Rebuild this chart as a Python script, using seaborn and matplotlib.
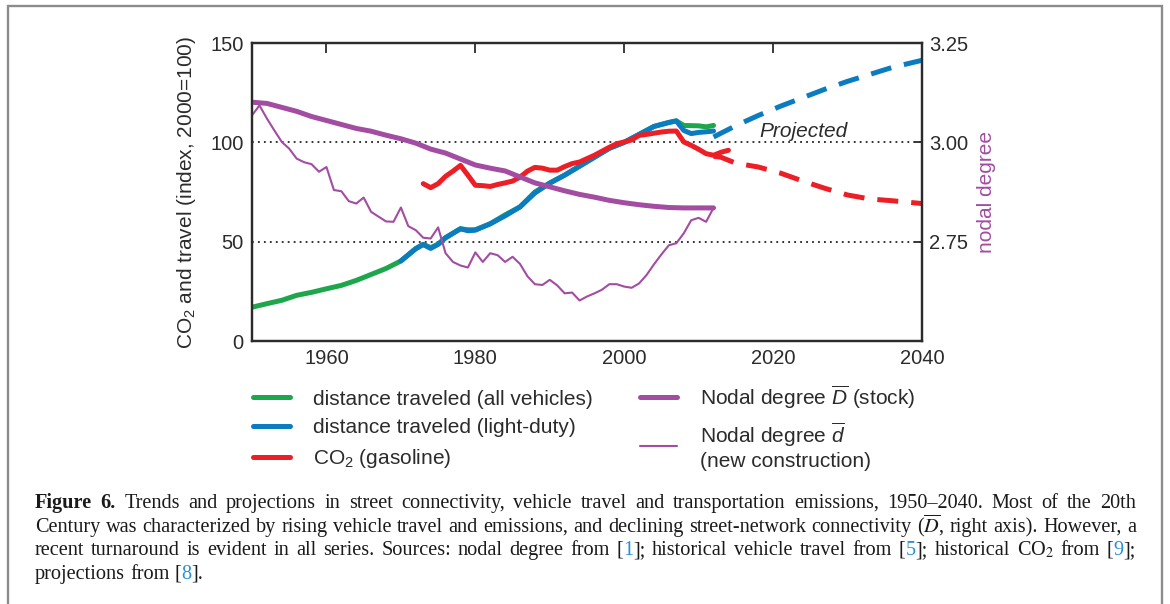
import matplotlib
matplotlib.use("Agg")
import matplotlib.pyplot as plt
import seaborn as sns
from matplotlib.lines import Line2D
from matplotlib.patches import Rectangle

# data
# vehicle travel, all vehicles (index, 2000=100)
years_all = [1950, 1952, 1954, 1956, 1958, 1960, 1962, 1964, 1966, 1968, 1970,
             1972, 1973, 1974, 1975, 1976, 1978, 1979, 1980, 1982, 1984, 1986,
             1988, 1990, 1992, 1994, 1996, 1998, 2000, 2002, 2004, 2006, 2007,
             2008, 2010, 2011, 2012]
travel_all = [17, 18.8, 20.5, 23, 24.5, 26.3, 28, 30.5, 33.5, 36.5, 40.3,
              46.5, 48.6, 47, 48.7, 52, 56.5, 56, 56, 59, 63.5, 67.5,
              75, 79.5, 83.5, 88, 92.5, 97, 100, 104, 108, 110, 110.8,
              108.5, 108.3, 107.8, 108.5]

# vehicle travel, light-duty
years_ld = [1970, 1972, 1973, 1974, 1975, 1976, 1978, 1979, 1980, 1982, 1984,
            1986, 1988, 1990, 1992, 1994, 1996, 1998, 2000, 2002, 2004, 2006,
            2007, 2008, 2009, 2010, 2011, 2012]
travel_ld = [40.3, 46.5, 48.6, 46.6, 48.7, 52, 56.5, 55.5, 55.8, 59, 63,
             67.5, 74.5, 79.5, 83.5, 88, 92.5, 97, 100, 104, 108, 110,
             110.8, 106, 104.4, 105, 105.3, 105.7]
years_ld_proj = [2012, 2015, 2018, 2021, 2024, 2027, 2030, 2033, 2036, 2040]
travel_ld_proj = [102.7, 108.4, 113.5, 118.2, 122.5, 126.8, 130.7, 134.2, 137.7, 141.3]

# CO2 from gasoline
years_co2 = list(range(1973, 2015))
co2 = [79.2, 77.2, 79.2, 82.9, 85.5, 88.4, 83.5, 78.4, 78.2, 77.8, 78.8,
       79.6, 80.5, 82.5, 85.5, 87.4, 87, 86, 86, 87.8, 89.3, 90.1, 91.8,
       93.5, 95.5, 97.5, 99.3, 100.2, 101.2, 103.5, 104, 104.6, 105.2,
       105.6, 105.7, 100.2, 98.5, 96.5, 94.3, 93.5, 95, 96]
years_co2_proj = [2012, 2013, 2015, 2018, 2021, 2024, 2027, 2030, 2033, 2036, 2040]
co2_proj = [93, 92.5, 89.5, 87.6, 84.5, 80.5, 76.8, 73.5, 71.5, 70.6, 69.2]

# nodal degree of the stock (D bar)
years_stock = list(range(1950, 2013, 2))
degree_stock = [3.101, 3.098, 3.088, 3.078, 3.065, 3.055, 3.045, 3.035, 3.028,
                3.018, 3.009, 2.998, 2.983, 2.973, 2.958, 2.943, 2.935, 2.928,
                2.913, 2.898, 2.888, 2.878, 2.869, 2.862, 2.854, 2.848, 2.843,
                2.839, 2.836, 2.835, 2.835, 2.835]

# nodal degree of new construction (d bar)
years_new = list(range(1950, 2013))
degree_new = [3.068, 3.093, 3.060, 3.030, 3.001, 2.984, 2.959, 2.950, 2.945,
              2.926, 2.938, 2.880, 2.877, 2.852, 2.846, 2.861, 2.825, 2.813,
              2.801, 2.800, 2.836, 2.789, 2.779, 2.760, 2.758, 2.786, 2.721,
              2.699, 2.690, 2.685, 2.723, 2.699, 2.721, 2.716, 2.699, 2.712,
              2.694, 2.663, 2.643, 2.641, 2.654, 2.640, 2.620, 2.622, 2.602,
              2.612, 2.620, 2.629, 2.643, 2.643, 2.637, 2.634, 2.645, 2.666,
              2.693, 2.718, 2.741, 2.746, 2.771, 2.804, 2.810, 2.800, 2.835]

x_ticks = [1960, 1980, 2000, 2020, 2040]
left_ticks = [0, 50, 100, 150]
right_ticks = [2.75, 3.00, 3.25]

GREEN = "#1ea64c"
BLUE = "#0b7cc0"
RED = "#ed1f26"
PURPLE = "#a24ca2"
LINK = "#2a90d2"

sns.set_theme(style="white")
plt.rcParams["font.family"] = ["Liberation Sans", "DejaVu Sans"]
plt.rcParams["mathtext.fontset"] = "custom"
plt.rcParams["mathtext.rm"] = "Liberation Sans"
plt.rcParams["mathtext.it"] = "Liberation Sans:italic"

fig = plt.figure(figsize=(11.7, 6.04), dpi=100)
ax = fig.add_axes([0.2154, 0.4354, 0.5726, 0.4934])
ax2 = ax.twinx()

thick = 3.6
proj_dash = (0, (4.2, 2.6))

sns.lineplot(x=years_all, y=travel_all, ax=ax, color=GREEN, linewidth=thick)
sns.lineplot(x=years_ld, y=travel_ld, ax=ax, color=BLUE, linewidth=thick)
sns.lineplot(x=years_ld_proj, y=travel_ld_proj, ax=ax, color=BLUE,
             linewidth=thick, linestyle=proj_dash)
sns.lineplot(x=years_co2, y=co2, ax=ax, color=RED, linewidth=thick)
sns.lineplot(x=years_co2_proj, y=co2_proj, ax=ax, color=RED,
             linewidth=thick, linestyle=proj_dash)

sns.lineplot(x=years_new, y=degree_new, ax=ax2, color=PURPLE, linewidth=1.5)
sns.lineplot(x=years_stock, y=degree_stock, ax=ax2, color=PURPLE, linewidth=thick)

for v in [50, 100]:
    ax.axhline(v, color="#222222", linewidth=1.3, linestyle=(0, (1, 2.3)), zorder=0.5)

ax.set_xlim(1950, 2040)
ax.set_ylim(0, 150)
ax2.set_ylim(2.5, 3.25)
ax.set_xticks(x_ticks)
ax.set_yticks(left_ticks)
ax2.set_yticks(right_ticks)
ax2.set_yticklabels([f"{t:.2f}" for t in right_ticks])

for a in (ax, ax2):
    for sp in a.spines.values():
        sp.set_color("#2b2b2b")
        sp.set_linewidth(1.6)
ax.tick_params(axis="x", direction="in", length=7, width=1.3, top=True,
               labelsize=14.5, pad=6, colors="#2b2b2b")
ax.tick_params(axis="y", direction="in", length=0, labelsize=14.5, pad=6,
               colors="#2b2b2b")
ax2.tick_params(axis="y", direction="in", length=6, width=1.3, labelsize=14.5,
                pad=5, colors="#2b2b2b")

ax.set_xlabel("")
ax.set_ylabel("CO$_2$ and travel (index, 2000=100)", fontsize=15,
              color="#2b2b2b", labelpad=9)
ax2.set_ylabel("nodal degree", fontsize=15, color=PURPLE, labelpad=6.5)

ax.text(2024.1, 105.5, "Projected", fontsize=15, style="italic",
        color="#2b2b2b", ha="center", va="center")

handles = [
    Line2D([], [], color=GREEN, linewidth=thick),
    Line2D([], [], color=BLUE, linewidth=thick),
    Line2D([], [], color=RED, linewidth=thick),
    Line2D([], [], color=PURPLE, linewidth=thick),
    Line2D([], [], color=PURPLE, linewidth=1.5),
]
labels = [
    "distance traveled (all vehicles)",
    "distance traveled (light-duty)",
    "CO$_2$ (gasoline)",
    r"Nodal degree $\overline{D}$ (stock)",
    "Nodal degree $\\overline{d}$\n(new construction)",
]
fig.legend(handles, labels, loc="upper left", bbox_to_anchor=(0.2162, 0.365),
           ncol=2, frameon=False, fontsize=15, handlelength=1.8,
           handletextpad=1.1, columnspacing=2.25, labelspacing=0.47,
           borderpad=0, borderaxespad=0, labelcolor="#2b2b2b")

# gray frame around the figure block
fig.add_artist(Rectangle((7.5 / 1170, -0.1), (1162 - 7.5) / 1170, 1.1 - 6 / 604,
                         transform=fig.transFigure, fill=False,
                         edgecolor="#8c8c8c", linewidth=1.7))

# caption: justified lines, words placed one by one so the refs can be blue
renderer = fig.canvas.get_renderer()
cap = dict(family="Liberation Serif", fontsize=14.6, color="#1a1a1a",
           va="baseline", ha="left", math_fontfamily="stix")
blue = {"color": LINK}
cap_left, cap_right = 35, 1136


def caption_line(y_px, words, justify=True):
    # each word is a list of (text, style) pieces set without spaces between
    placed = []
    for word in words:
        parts = []
        x = 0
        for text, kw in word:
            props = dict(cap)
            props.update(kw)
            t = fig.text(0, 1 - y_px / 604, text, **props)
            w = t.get_window_extent(renderer).width
            parts.append((t, x))
            x += w
        placed.append((parts, x))
    space = fig.text(0, 0, "a a", **cap).get_window_extent(renderer).width - \
        fig.text(0, 0, "aa", **cap).get_window_extent(renderer).width
    total = sum(w for _, w in placed)
    if justify and len(placed) > 1:
        gap = (cap_right - cap_left - total) / (len(placed) - 1)
    else:
        gap = space
    x0 = cap_left
    for parts, w in placed:
        for t, dx in parts:
            t.set_x((x0 + dx) / 1170)
        x0 += w + gap
    for t in fig.texts[-2:]:
        t.remove()


def plain(s):
    return [[(w, {})] for w in s.split(" ")]


line1 = [[("Figure", {"weight": "bold"})], [("6.", {"weight": "bold"})]] + plain(
    "Trends and projections in street connectivity, vehicle travel and "
    "transportation emissions, 1950\u20132040. Most of the 20th")
line2 = plain("Century was characterized by rising vehicle travel and emissions, and "
              "declining street-network connectivity") + \
    [[("($\\overline{D}$,", {})]] + plain("right axis). However, a")
line3 = plain("recent turnaround is evident in all series. Sources: nodal degree from") + \
    [[("[", {}), ("1", blue), ("];", {})]] + plain("historical vehicle travel from") + \
    [[("[", {}), ("5", blue), ("];", {})]] + plain("historical") + \
    [[("CO$_2$", {})]] + plain("from") + [[("[", {}), ("9", blue), ("];", {})]]
line4 = plain("projections from") + [[("[", {}), ("8", blue), ("].", {})]]

caption_line(508, line1)
caption_line(532, line2)
caption_line(555, line3)
caption_line(579, line4, justify=False)

fig.savefig("out.png", dpi=100)
